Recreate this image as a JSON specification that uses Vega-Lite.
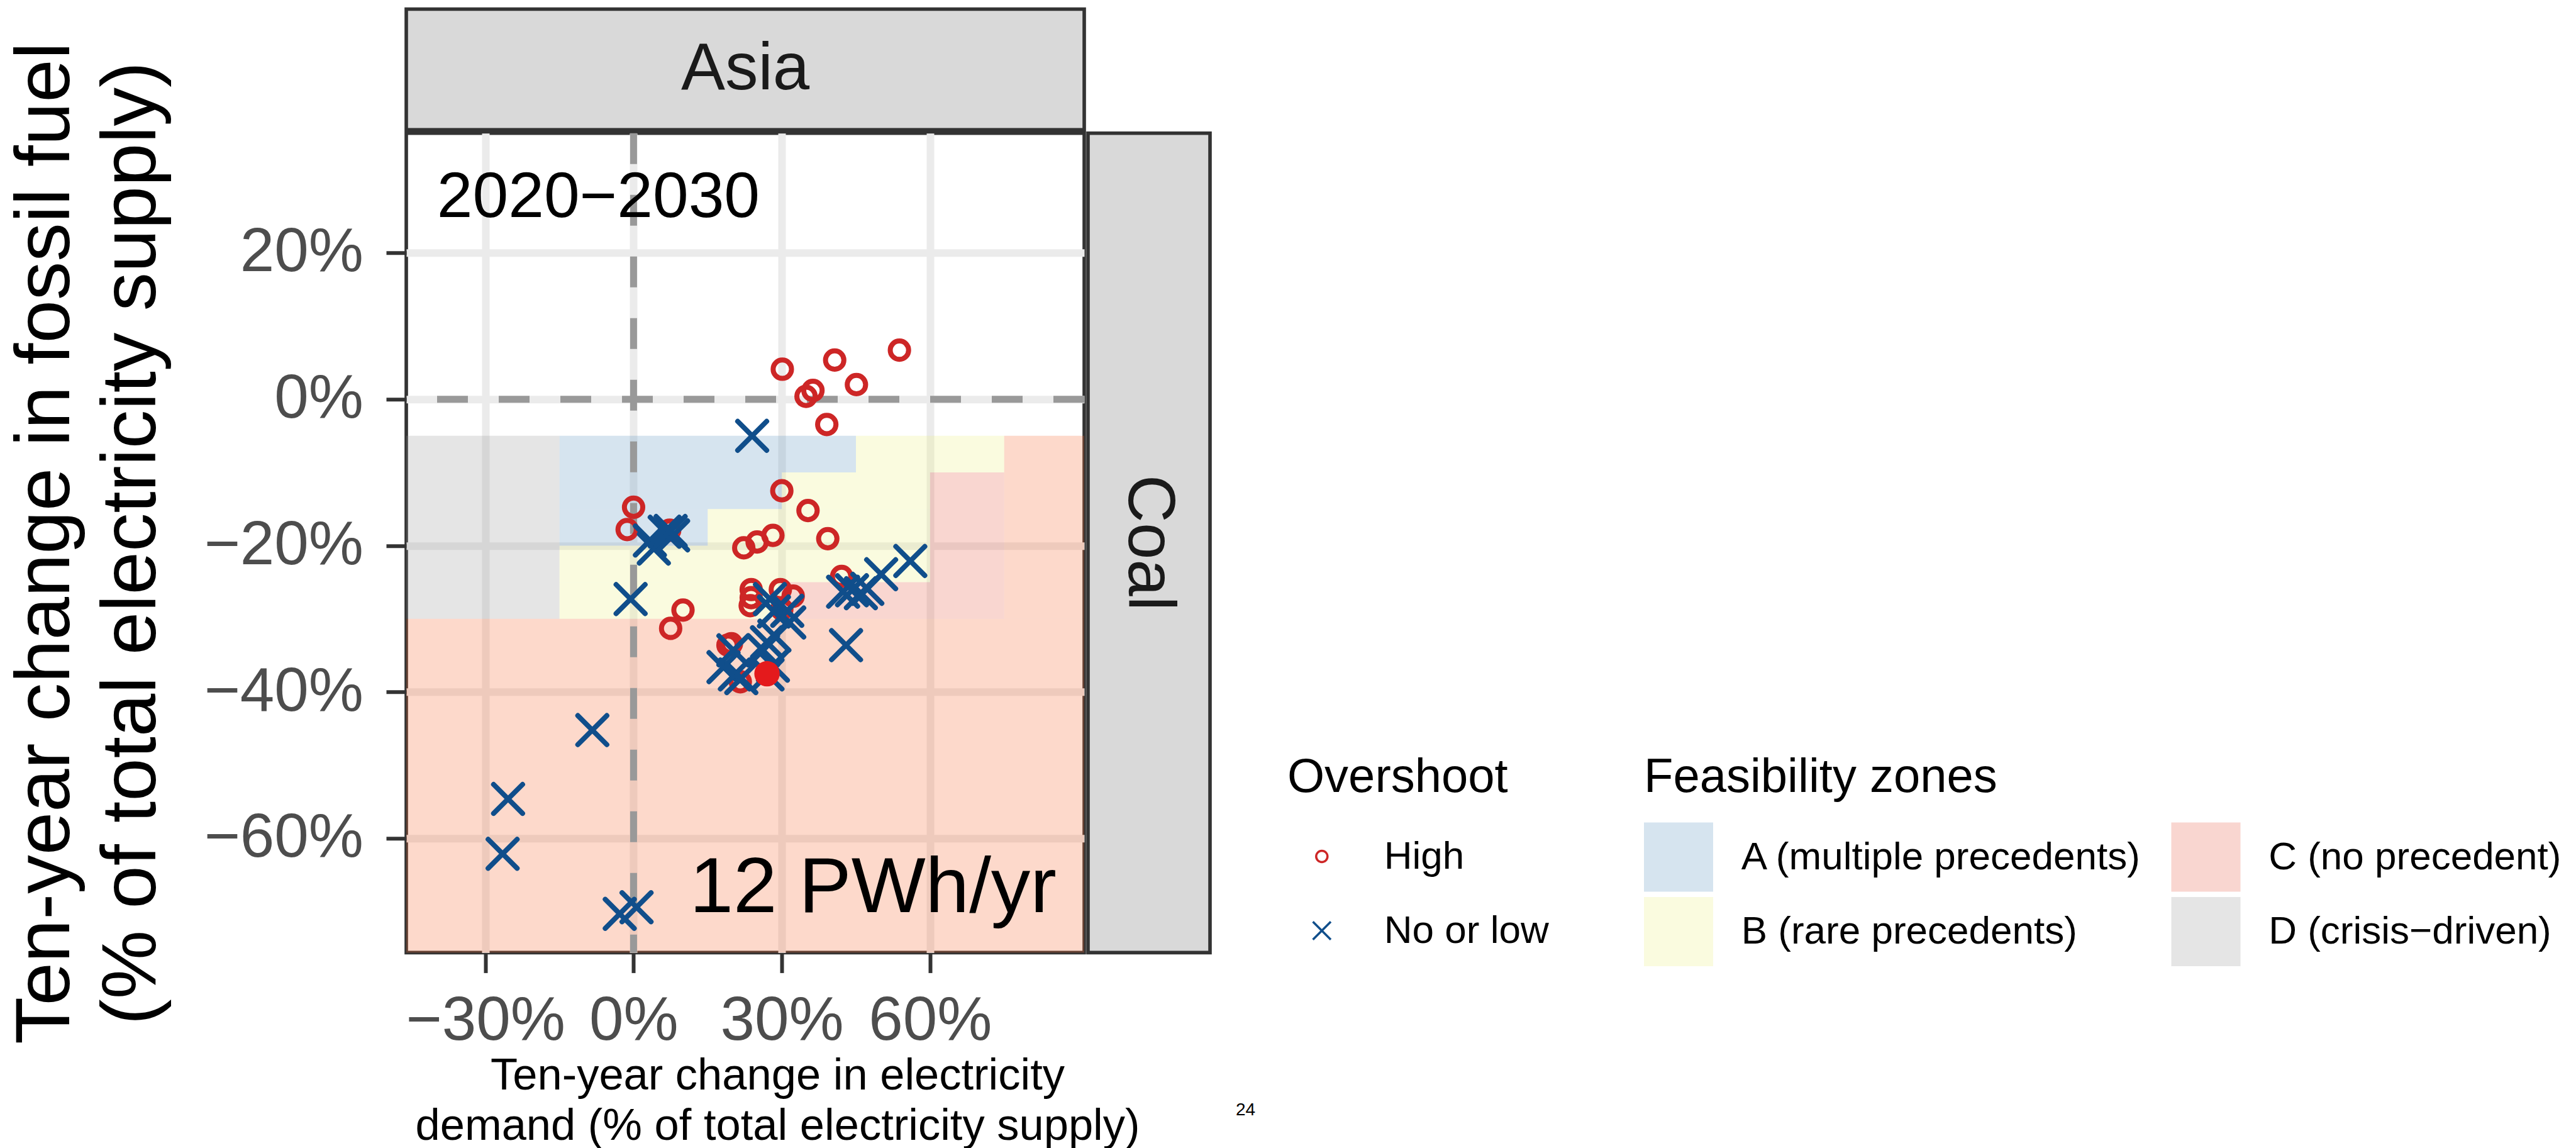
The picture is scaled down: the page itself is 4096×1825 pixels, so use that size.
{
  "$schema": "https://vega.github.io/schema/vega-lite/v6.json",
  "background": "white",
  "autosize": {"type": "pad"},
  "padding": {"left": 8, "top": 11.5, "right": 5, "bottom": 0},
  "datasets": {
    "zones": [
      {"x": -15, "x2": 45, "y": -5, "y2": -10, "zone": "A (multiple precedents)"},
      {"x": -15, "x2": 30, "y": -10, "y2": -15, "zone": "A (multiple precedents)"},
      {"x": -15, "x2": 15, "y": -15, "y2": -20, "zone": "A (multiple precedents)"},
      {"x": 45, "x2": 75, "y": -5, "y2": -10, "zone": "B (rare precedents)"},
      {"x": 30, "x2": 60, "y": -10, "y2": -15, "zone": "B (rare precedents)"},
      {"x": 15, "x2": 60, "y": -15, "y2": -20, "zone": "B (rare precedents)"},
      {"x": -15, "x2": 60, "y": -20, "y2": -25, "zone": "B (rare precedents)"},
      {"x": -15, "x2": 30, "y": -25, "y2": -30, "zone": "B (rare precedents)"},
      {"x": 60, "x2": 75, "y": -10, "y2": -30, "zone": "C (no precedent)"},
      {"x": 30, "x2": 60, "y": -25, "y2": -30, "zone": "C (no precedent)"},
      {"x": -60, "x2": -15, "y": -5, "y2": -30, "zone": "D (crisis−driven)"}
    ],
    "beyond": [
      {"x": 75, "x2": 100, "y": -5, "y2": -30},
      {"x": -60, "x2": 100, "y": -30, "y2": -80}
    ],
    "zero_lines": [{"at": 0}],
    "scenarios": [
      {"demand": 30.1, "fossil": 4.1, "overshoot": "High"},
      {"demand": 40.7, "fossil": 5.35, "overshoot": "High"},
      {"demand": 53.8, "fossil": 6.7, "overshoot": "High"},
      {"demand": 36.3, "fossil": 1.2, "overshoot": "High"},
      {"demand": 34.9, "fossil": 0.4, "overshoot": "High"},
      {"demand": 45.1, "fossil": 2.0, "overshoot": "High"},
      {"demand": 39.1, "fossil": -3.45, "overshoot": "High"},
      {"demand": 0.0, "fossil": -14.75, "overshoot": "High"},
      {"demand": -1.3, "fossil": -17.8, "overshoot": "High"},
      {"demand": 7.3, "fossil": -17.9, "overshoot": "High"},
      {"demand": 30.0, "fossil": -12.5, "overshoot": "High"},
      {"demand": 35.3, "fossil": -15.2, "overshoot": "High"},
      {"demand": 22.3, "fossil": -20.3, "overshoot": "High"},
      {"demand": 25.0, "fossil": -19.5, "overshoot": "High"},
      {"demand": 28.2, "fossil": -18.6, "overshoot": "High"},
      {"demand": 39.3, "fossil": -19.05, "overshoot": "High"},
      {"demand": 42.1, "fossil": -24.2, "overshoot": "High"},
      {"demand": 10.0, "fossil": -28.8, "overshoot": "High"},
      {"demand": 7.5, "fossil": -31.3, "overshoot": "High"},
      {"demand": 23.8, "fossil": -26.0, "overshoot": "High"},
      {"demand": 23.8, "fossil": -27.1, "overshoot": "High"},
      {"demand": 23.6, "fossil": -28.2, "overshoot": "High"},
      {"demand": 29.7, "fossil": -26.0, "overshoot": "High"},
      {"demand": 32.3, "fossil": -26.9, "overshoot": "High"},
      {"demand": 30.0, "fossil": -28.7, "overshoot": "High"},
      {"demand": 19.1, "fossil": -33.6, "overshoot": "High"},
      {"demand": 19.8, "fossil": -33.4, "overshoot": "High"},
      {"demand": 21.6, "fossil": -38.6, "overshoot": "High"},
      {"demand": 24.0, "fossil": -5.0, "overshoot": "No or low"},
      {"demand": 3.3, "fossil": -19.3, "overshoot": "No or low"},
      {"demand": 4.1, "fossil": -20.4, "overshoot": "No or low"},
      {"demand": 6.3, "fossil": -18.1, "overshoot": "No or low"},
      {"demand": 7.5, "fossil": -18.0, "overshoot": "No or low"},
      {"demand": 8.0, "fossil": -18.6, "overshoot": "No or low"},
      {"demand": -0.6, "fossil": -27.3, "overshoot": "No or low"},
      {"demand": 56.0, "fossil": -22.1, "overshoot": "No or low"},
      {"demand": 50.1, "fossil": -23.9, "overshoot": "No or low"},
      {"demand": 42.4, "fossil": -26.3, "overshoot": "No or low"},
      {"demand": 44.2, "fossil": -26.1, "overshoot": "No or low"},
      {"demand": 46.0, "fossil": -26.5, "overshoot": "No or low"},
      {"demand": 47.3, "fossil": -25.9, "overshoot": "No or low"},
      {"demand": 43.0, "fossil": -33.6, "overshoot": "No or low"},
      {"demand": 27.6, "fossil": -27.3, "overshoot": "No or low"},
      {"demand": 28.4, "fossil": -29.0, "overshoot": "No or low"},
      {"demand": 31.1, "fossil": -28.9, "overshoot": "No or low"},
      {"demand": 31.5, "fossil": -30.5, "overshoot": "No or low"},
      {"demand": 28.5, "fossil": -32.3, "overshoot": "No or low"},
      {"demand": 27.0, "fossil": -33.2, "overshoot": "No or low"},
      {"demand": 26.2, "fossil": -34.3, "overshoot": "No or low"},
      {"demand": 20.2, "fossil": -34.3, "overshoot": "No or low"},
      {"demand": 18.2, "fossil": -36.6, "overshoot": "No or low"},
      {"demand": 20.5, "fossil": -37.6, "overshoot": "No or low"},
      {"demand": 21.8, "fossil": -38.1, "overshoot": "No or low"},
      {"demand": 27.1, "fossil": -37.6, "overshoot": "No or low"},
      {"demand": 28.2, "fossil": -36.4, "overshoot": "No or low"},
      {"demand": -8.35, "fossil": -45.2, "overshoot": "No or low"},
      {"demand": -25.4, "fossil": -54.6, "overshoot": "No or low"},
      {"demand": -26.5, "fossil": -62.1, "overshoot": "No or low"},
      {"demand": -2.8, "fossil": -70.3, "overshoot": "No or low"},
      {"demand": 0.6, "fossil": -69.4, "overshoot": "No or low"}
    ],
    "highlight": [{"demand": 27.0, "fossil": -37.5}]
  },
  "columns": 2,
  "bounds": "flush",
  "align": "each",
  "spacing": {"row": 5.2, "column": 6},
  "concat": [
    {
      "width": 1078,
      "height": 191.8,
      "view": {"fill": "#d9d9d9", "stroke": "#333333", "strokeWidth": 5.6},
      "data": {"values": [{"panel": "Asia"}]},
      "mark": {"type": "text", "fontSize": 105, "color": "#1a1a1a", "align": "center", "baseline": "middle"},
      "encoding": {"text": {"field": "panel"}}
    },
    {
      "width": 194,
      "height": 191.8,
      "data": {"values": [{"panel": ""}]},
      "mark": {"type": "text"},
      "encoding": {"text": {"field": "panel"}}
    },
    {
      "width": 1078,
      "height": 1302.7,
      "view": {"stroke": "#333333", "strokeWidth": 5.6},
      "layer": [
        {
          "data": {"name": "zones"},
          "mark": {"type": "rect", "opacity": 0.25, "clip": true},
          "encoding": {
            "x": {
              "field": "x", "type": "quantitative",
              "scale": {"domain": [-46, 91.2], "nice": false, "zero": false},
              "axis": {
                "values": [-30, 0, 30, 60],
                "format": "d",
                "labelExpr": "datum.label + '%'",
                "title": ["Ten-year change in electricity", "demand (% of total electricity supply)"],
                "titleFontSize": 70.5,
                "titleLineHeight": 80,
                "titlePadding": 3,
                "titleX": 590,
                "labelPadding": 29,
                "grid": true
              }
            },
            "x2": {"field": "x2"},
            "y": {
              "field": "y", "type": "quantitative",
              "scale": {"domain": [-75.6, 36.35], "nice": false, "zero": false},
              "axis": {
                "values": [-60, -40, -20, 0, 20],
                "format": "d",
                "labelExpr": "datum.label + '%'",
                "title": ["Ten-year change in fossil fuel", "(% of total electricity supply)"],
                "titleFontSize": 123,
                "titleLineHeight": 137,
                "titlePadding": 173.8,
                "labelPadding": 36.5,
                "grid": true
              }
            },
            "y2": {"field": "y2"},
            "fill": {
              "field": "zone", "type": "nominal",
              "scale": {
                "domain": ["A (multiple precedents)", "B (rare precedents)", "C (no precedent)", "D (crisis−driven)"],
                "range": ["#5b93bf", "#ebef7f", "#e75b43", "#979797"]
              },
              "legend": {
                "title": "Feasibility zones",
                "orient": "none",
                "legendX": 1968,
                "legendY": 1184,
                "columns": 2,
                "columnPadding": 45.5,
                "rowPadding": 8.5,
                "symbolType": "square",
                "symbolSize": 12100,
                "symbolStrokeWidth": 0,
                "symbolOpacity": 0.25,
                "labelOffset": 44.7,
                "titlePadding": 33
              }
            }
          }
        },
        {
          "data": {"name": "beyond"},
          "mark": {"type": "rect", "opacity": 0.25, "clip": true, "fill": "#f7672f"},
          "encoding": {
            "x": {"field": "x", "type": "quantitative", "scale": {"domain": [-46, 91.2], "nice": false, "zero": false}},
            "x2": {"field": "x2"},
            "y": {"field": "y", "type": "quantitative", "scale": {"domain": [-75.6, 36.35], "nice": false, "zero": false}},
            "y2": {"field": "y2"}
          }
        },
        {
          "data": {"name": "zero_lines"},
          "mark": {"type": "rule", "color": "#999999", "strokeWidth": 11, "strokeDash": [49, 49]},
          "encoding": {
            "y": {"field": "at", "type": "quantitative", "scale": {"domain": [-75.6, 36.35], "nice": false, "zero": false}}
          }
        },
        {
          "data": {"name": "zero_lines"},
          "mark": {"type": "rule", "color": "#999999", "strokeWidth": 11, "strokeDash": [49, 49]},
          "encoding": {
            "x": {"field": "at", "type": "quantitative", "scale": {"domain": [-46, 91.2], "nice": false, "zero": false}}
          }
        },
        {
          "data": {"name": "scenarios"},
          "mark": {"type": "point", "filled": false, "opacity": 1, "strokeWidth": 8, "strokeCap": "round", "size": 853},
          "encoding": {
            "x": {"field": "demand", "type": "quantitative", "scale": {"domain": [-46, 91.2], "nice": false, "zero": false}},
            "y": {"field": "fossil", "type": "quantitative", "scale": {"domain": [-75.6, 36.35], "nice": false, "zero": false}},
            "color": {
              "field": "overshoot", "type": "nominal",
              "scale": {"domain": ["High", "No or low"], "range": ["#cd2626", "#104e8b"]},
              "legend": {
                "title": "Overshoot",
                "orient": "none",
                "legendX": 1401,
                "legendY": 1184,
                "symbolSize": 324,
                "symbolStrokeWidth": 3.5,
                "symbolOpacity": 1,
                "symbolOffset": 23.8,
                "labelOffset": 68,
                "rowPadding": 56,
                "titlePadding": 56
              }
            },
            "shape": {
              "field": "overshoot", "type": "nominal",
              "scale": {"domain": ["High", "No or low"], "range": ["circle", "M-1.58,-1.58L1.58,1.58M-1.58,1.58L1.58,-1.58"]},
              "legend": {
                "title": "Overshoot",
                "orient": "none",
                "legendX": 1401,
                "legendY": 1184,
                "symbolSize": 324,
                "symbolStrokeWidth": 3.5,
                "symbolOpacity": 1,
                "symbolOffset": 23.8,
                "labelOffset": 68,
                "rowPadding": 56,
                "titlePadding": 56
              }
            }
          }
        },
        {
          "data": {"name": "highlight"},
          "mark": {"type": "point", "filled": true, "opacity": 1, "size": 1630, "color": "#e41a1c", "strokeWidth": 0},
          "encoding": {
            "x": {"field": "demand", "type": "quantitative", "scale": {"domain": [-46, 91.2], "nice": false, "zero": false}},
            "y": {"field": "fossil", "type": "quantitative", "scale": {"domain": [-75.6, 36.35], "nice": false, "zero": false}}
          }
        },
        {
          "data": {"values": [{"note": "2020−2030"}]},
          "mark": {"type": "text", "align": "left", "baseline": "alphabetic", "fontSize": 102, "color": "black"},
          "encoding": {
            "x": {"datum": -39.8, "type": "quantitative", "scale": {"domain": [-46, 91.2], "nice": false, "zero": false}},
            "y": {"datum": 24.9, "type": "quantitative", "scale": {"domain": [-75.6, 36.35], "nice": false, "zero": false}},
            "text": {"field": "note"}
          }
        },
        {
          "data": {"values": [{"note": "12 PWh/yr"}]},
          "mark": {"type": "text", "align": "right", "baseline": "alphabetic", "fontSize": 125, "color": "black"},
          "encoding": {
            "x": {"datum": 85.6, "type": "quantitative", "scale": {"domain": [-46, 91.2], "nice": false, "zero": false}},
            "y": {"datum": -70.1, "type": "quantitative", "scale": {"domain": [-75.6, 36.35], "nice": false, "zero": false}},
            "text": {"field": "note"}
          }
        },
        {
          "data": {"values": [{"note": "24"}]},
          "mark": {"type": "text", "align": "center", "baseline": "alphabetic", "fontSize": 28, "color": "black"},
          "encoding": {
            "x": {"datum": 123.85, "type": "quantitative", "scale": {"domain": [-46, 91.2], "nice": false, "zero": false}},
            "y": {"datum": -97.8, "type": "quantitative", "scale": {"domain": [-75.6, 36.35], "nice": false, "zero": false}},
            "text": {"field": "note"}
          }
        }
      ]
    },
    {
      "width": 194,
      "height": 1302.7,
      "view": {"fill": "#d9d9d9", "stroke": "#333333", "strokeWidth": 5.6},
      "data": {"values": [{"panel": "Coal"}]},
      "mark": {"type": "text", "fontSize": 105, "color": "#1a1a1a", "align": "center", "baseline": "middle", "angle": 90},
      "encoding": {"text": {"field": "panel"}}
    }
  ],
  "config": {
    "font": "Liberation Sans",
    "view": {"stroke": null},
    "axis": {
      "labelFont": "Liberation Sans",
      "titleFont": "Liberation Sans",
      "labelFontSize": 98,
      "labelColor": "#4d4d4d",
      "labelLimit": 0,
      "titleLimit": 0,
      "titleColor": "black",
      "titleFontWeight": "normal",
      "tickColor": "#333333",
      "tickSize": 32,
      "tickWidth": 6,
      "domain": false,
      "gridColor": "#ebebeb",
      "gridWidth": 12,
      "gridOpacity": 1,
      "labelOverlap": false,
      "labelFlush": false,
      "labelBound": false
    },
    "legend": {
      "labelFont": "Liberation Sans",
      "titleFont": "Liberation Sans",
      "labelFontSize": 62,
      "titleFontSize": 76,
      "labelColor": "black",
      "titleColor": "black",
      "titleFontWeight": "normal",
      "padding": 0,
      "labelLimit": 0,
      "titleLimit": 0
    }
  }
}
